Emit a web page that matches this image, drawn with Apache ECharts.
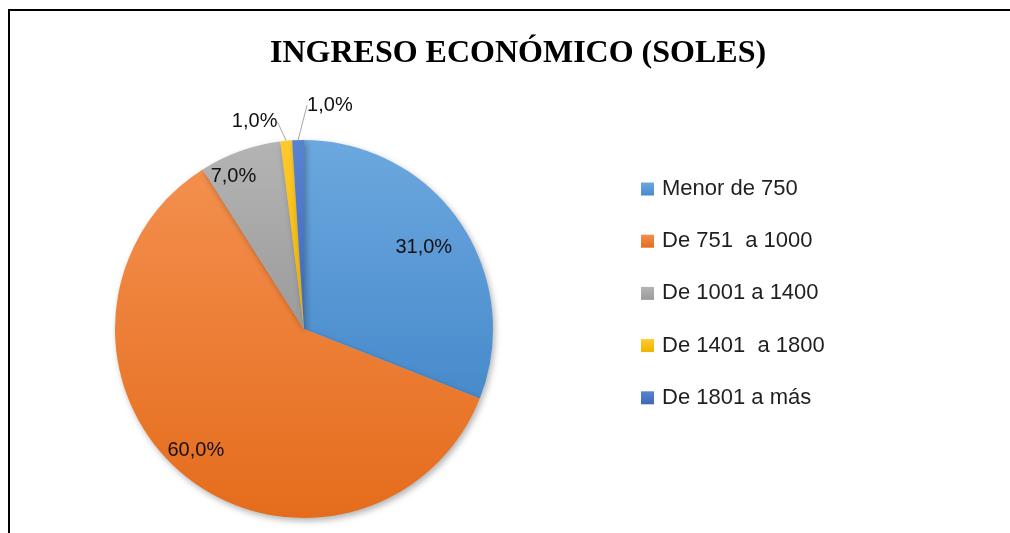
<!DOCTYPE html>
<html>
<head>
<meta charset="utf-8">
<script src="https://cdn.jsdelivr.net/npm/echarts@6/dist/echarts.min.js"></script>
<style>
  html, body { margin: 0; padding: 0; background: #fff; }
  #frame { position: absolute; left: 8px; top: 9px; width: 1002px; height: 524px;
           border-left: 2px solid #000; border-top: 2px solid #000; box-sizing: border-box; }
  #chart { position: absolute; left: 0; top: 0; width: 1010px; height: 533px; }
</style>
</head>
<body>
<div id="frame"></div>
<div id="chart"></div>
<script>
// ---- data ----
const titleText = 'INGRESO ECONÓMICO (SOLES)';
const categories = ['Menor de 750', 'De 751  a 1000', 'De 1001 a 1400', 'De 1401  a 1800', 'De 1801 a más'];
const values = [31.0, 60.0, 7.0, 1.0, 1.0];

// ---- style ----
const gradients = [
  ['#6CA8DF', '#478ACB'],
  ['#F38F4E', '#E56C1C'],
  ['#B4B4B4', '#9B9B9B'],
  ['#FFCA2C', '#F0B400'],
  ['#5983D0', '#3D68B9']
];
const CX = 304, CY = 329, R = 189;
// label placement: [radius fraction, angle offset in degrees] relative to slice bisector
const labelPlace = [[0.766, 0], [0.862, 2], [0.89, -5], [1.127, -8], [1.193, 8.4]];

const total = values.reduce((a, b) => a + b, 0);
const midAngles = [];
let acc = 0;
values.forEach(v => { midAngles.push((acc + v / 2) / total * 360); acc += v; });

const fmt = v => v.toFixed(1).replace('.', ',') + '%';

const chart = echarts.init(document.getElementById('chart'), null, { renderer: 'canvas' });
chart.setOption({
  animation: false,
  title: {
    text: titleText,
    left: 270, top: 38, padding: 0,
    textStyle: { fontFamily: 'Liberation Serif', fontWeight: 'bold', fontSize: 32, color: '#000' }
  },
  legend: {
    orient: 'vertical',
    left: 641, top: 178, padding: 0,
    itemWidth: 13, itemHeight: 13, itemGap: 30.2,
    icon: 'rect',
    textStyle: { fontFamily: 'Liberation Sans', fontSize: 22, color: '#1f1f1f', lineHeight: 22, padding: [0, 0, 0, 3] },
    data: categories
  },
  series: [{
    type: 'pie',
    center: [CX, CY],
    radius: R,
    startAngle: 90,
    clockwise: true,
    avoidLabelOverlap: false,
    itemStyle: {
      borderWidth: 0,
      shadowBlur: 6, shadowOffsetX: 2, shadowOffsetY: 3, shadowColor: 'rgba(0,0,0,0.3)'
    },
    label: {
      formatter: p => fmt(p.value),
      fontFamily: 'Liberation Sans', fontSize: 20, color: '#111'
    },
    labelLine: { lineStyle: { color: '#A6A6A6', width: 1 }, length: 20, length2: 0 },
    labelLayout: p => {
      const i = p.dataIndex;
      const a = (midAngles[i] + labelPlace[i][1]) * Math.PI / 180;
      const d = labelPlace[i][0] * R;
      return { x: CX + d * Math.sin(a), y: CY - d * Math.cos(a), align: 'center', verticalAlign: 'middle' };
    },
    data: categories.map((name, i) => ({
      name,
      value: values[i],
      itemStyle: {
        color: new echarts.graphic.LinearGradient(0, 0, 0, 1, [
          { offset: 0, color: gradients[i][0] },
          { offset: 1, color: gradients[i][1] }
        ])
      },
      label: { position: values[i] < 5 ? 'outside' : 'inside' },
      labelLine: { show: values[i] < 5 }
    }))
  }]
});
</script>
</body>
</html>
